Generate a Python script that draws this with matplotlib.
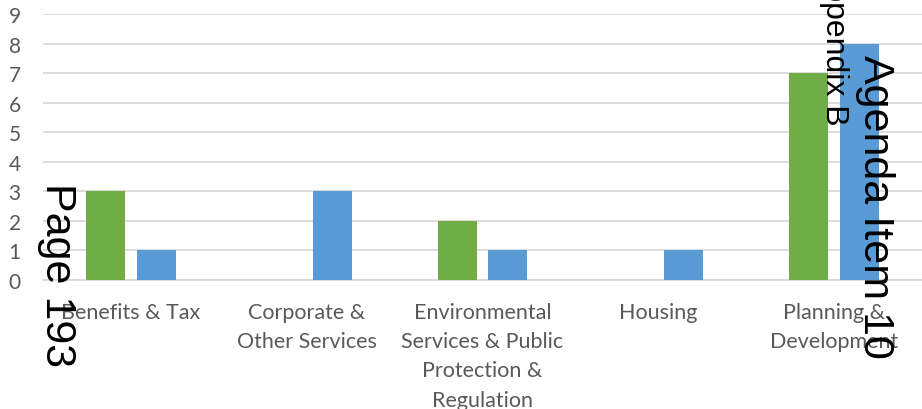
import matplotlib
matplotlib.use("Agg")
import matplotlib.pyplot as plt
import numpy as np

categories = [
    "Benefits & Tax",
    "Corporate &\nOther Services",
    "Environmental\nServices & Public\nProtection &\nRegulation",
    "Housing",
    "Planning &\nDevelopment",
]
green_values = [3, 0, 2, 0, 7]
blue_values = [1, 3, 1, 1, 8]
y_ticks = list(range(0, 10))

GREEN = "#70AD47"
BLUE = "#5B9BD5"
GRID = "#D9D9D9"
LABEL = "#595959"

W, H = 922, 410
fig = plt.figure(figsize=(W / 100, H / 100), dpi=100)
ax = fig.add_axes([43 / W, 1 - 281 / H, (W - 43) / W, (281 - 15) / H])

x = np.arange(len(categories))
bar_w = 0.222
off = 0.1445
ax.bar(x - off, green_values, width=bar_w, color=GREEN, zorder=3)
ax.bar(x + off, blue_values, width=bar_w, color=BLUE, zorder=3)

ax.set_xlim(-0.5, len(categories) - 0.5)
ax.set_ylim(0, 9)
ax.set_yticks(y_ticks)
ax.yaxis.grid(True, color=GRID, linewidth=1.3, zorder=0)
ax.set_axisbelow(True)
for s in ["top", "right", "left"]:
    ax.spines[s].set_visible(False)
ax.spines["bottom"].set_color(GRID)
ax.spines["bottom"].set_linewidth(1.3)

ax.set_xticks(x)
ax.set_xticklabels(categories, linespacing=1.57)
ax.tick_params(axis="both", length=0, colors=LABEL)
ax.tick_params(axis="x", pad=16, labelsize=15.5)
ax.tick_params(axis="y", pad=16, labelsize=15)
for lbl in ax.get_xticklabels() + ax.get_yticklabels():
    lbl.set_fontfamily("Lato")
for lbl in ax.get_xticklabels():
    lbl.set_verticalalignment("top")

# stamped overlay text from the source document
fig.text(37 / W, 1 - 183 / H, "Page 193", rotation=-90, ha="left", va="top",
         fontsize=31, family="Liberation Sans", color="black")
fig.text(855 / W, 1 - 55 / H, "Agenda Item 10", rotation=-90, ha="left", va="top",
         fontsize=31, family="Liberation Sans", color="black")
fig.text(819 / W, 1 + 38 / H, "Appendix B", rotation=-90, ha="left", va="top",
         fontsize=23, family="Liberation Sans", color="black")

fig.savefig("out.png", dpi=100)
